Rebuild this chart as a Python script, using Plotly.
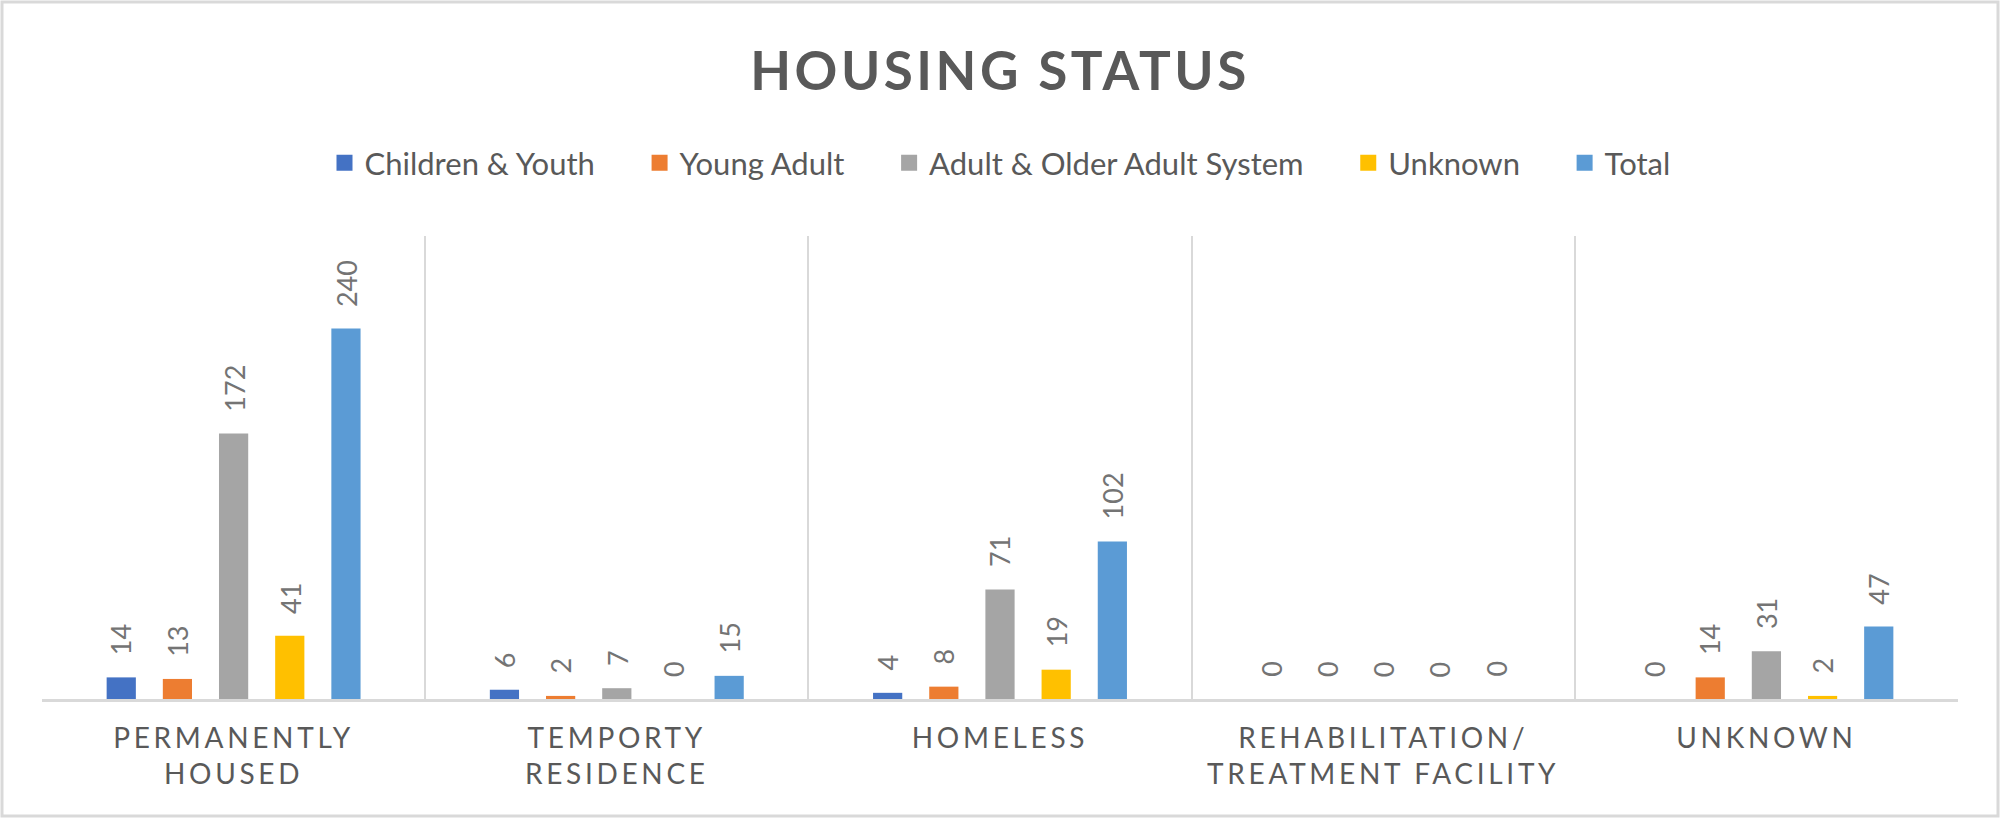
import plotly.graph_objects as go

# region Data
categories = ["PERMANENTLY HOUSED", "TEMPORTY RESIDENCE", "HOMELESS",
              "REHABILITATION/ TREATMENT FACILITY", "UNKNOWN"]
tick_lines = [["PERMANENTLY", "HOUSED"], ["TEMPORTY", "RESIDENCE"], ["HOMELESS"],
              ["REHABILITATION/", "TREATMENT FACILITY"], ["UNKNOWN"]]

series_names = ["Children & Youth", "Young Adult", "Adult & Older Adult System", "Unknown", "Total"]
children_youth = [14, 6, 4, 0, 0]
young_adult = [13, 2, 8, 0, 14]
adult_older = [172, 7, 71, 0, 31]
unknown = [41, 0, 19, 0, 2]
total = [240, 15, 102, 0, 47]
# endregion

series_values = [children_youth, young_adult, adult_older, unknown, total]
colors = ["#4472C4", "#ED7D31", "#A5A5A5", "#FFC000", "#5B9BD5"]

W, H = 2000, 818
m_l, m_r, m_t, m_b = 42, 42, 236, 119
plot_w = W - m_l - m_r
plot_h = H - m_t - m_b
bargap = 0.267
slot_px = plot_w / len(categories) * (1 - bargap) / len(series_names)


def spaced(s, px):
    return '<span style="letter-spacing:%spx">%s</span>' % (px, s)


fig = go.Figure()
for name, vals, col in zip(series_names, series_values, colors):
    fig.add_trace(go.Bar(name=name, x=categories, y=vals, showlegend=False,
                         marker=dict(color=col, line=dict(width=0))))

# legend entries with bigger square swatches (Excel style)
for k, (name, col) in enumerate(zip(series_names, colors)):
    pad = "\u00a0" * 5 if k < len(series_names) - 1 else ""
    fig.add_trace(go.Scatter(name=name + pad, x=[None], y=[None], mode="markers",
                             marker=dict(symbol="square", size=16, color=col)))

# data labels, rotated, sitting a bit above each bar
annotations = []
for i, vals in enumerate(series_values):
    for cat, v in zip(categories, vals):
        annotations.append(dict(
            x=cat, y=v, xref="x", yref="y", text=str(v), showarrow=False,
            textangle=-90, yanchor="bottom", xanchor="center",
            xshift=(i - 2) * slot_px, yshift=20,
            font=dict(family="Lato", size=27, color="#747474")))

fig.update_layout(
    width=W, height=H,
    margin=dict(l=m_l, r=m_r, t=m_t, b=m_b, autoexpand=False),
    paper_bgcolor="white", plot_bgcolor="white",
    barmode="group", bargap=bargap, bargroupgap=0.48,
    title=dict(text=spaced("HOUSING STATUS", 3.5), x=0.5, xanchor="center",
               y=1 - 71 / H, yanchor="middle",
               font=dict(family="Lato", size=53, color="#595959", weight="bold")),
    legend=dict(orientation="h", x=0.5, xanchor="center", y=1 - 163 / H,
                yref="container", yanchor="middle",
                font=dict(family="Lato", size=31, color="#595959")),
    annotations=annotations,
    font=dict(family="Lato", color="#595959"),
)

fig.update_xaxes(
    tickmode="array", tickvals=categories,
    ticktext=["<br>".join(spaced(s, 3.7) for s in lines) for lines in tick_lines],
    tickson="boundaries", showgrid=True, gridcolor="#D9D9D9", gridwidth=2,
    showline=True, linecolor="#D9D9D9", linewidth=3,
    ticks="", ticklabelstandoff=12, automargin=False,
    tickfont=dict(family="Lato", size=28, color="#595959"))

fig.update_yaxes(range=[0, 300], showgrid=False, zeroline=False,
                 showticklabels=False, showline=False, automargin=False)

# light border round the whole chart
fig.add_shape(type="rect", xref="paper", yref="paper",
              x0=-(m_l - 2) / plot_w, x1=1 + (m_r - 2) / plot_w,
              y0=-(m_b - 2) / plot_h, y1=1 + (m_t - 2) / plot_h,
              line=dict(color="#D9D9D9", width=3))

# page body has a default 8px margin; drop it so the chart fills the window
fig.write_html("out.html", config={"displayModeBar": False},
               post_script="document.body.style.margin='0';")
